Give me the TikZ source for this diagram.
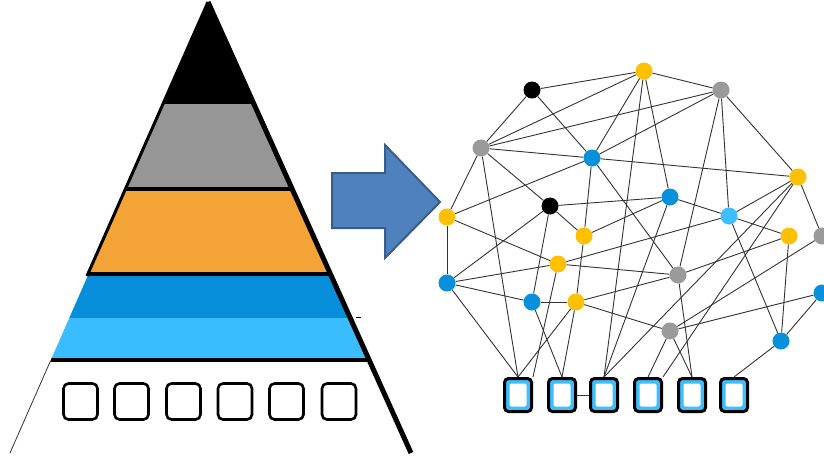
\documentclass[tikz,border=0pt]{standalone}
\usepackage{tikz}
\usetikzlibrary{positioning}
\definecolor{ptgray}{HTML}{969696}
\definecolor{ptorange}{HTML}{F4A436}
\definecolor{ptblue}{HTML}{078EDB}
\definecolor{ptlight}{HTML}{3ABDFE}
\definecolor{vyellow}{HTML}{FFC000}
\definecolor{vgray}{HTML}{9A9A9A}
\definecolor{vblue}{HTML}{0790DB}
\definecolor{vlight}{HTML}{3CBEFF}
\definecolor{arrfill}{HTML}{4F81BD}
\definecolor{arrline}{HTML}{385D8A}

\begin{document}
\begin{tikzpicture}[x=1pt, y=-1pt,
  vertex/.style={circle, inner sep=0pt, minimum size=17pt},
  yel/.style={vertex, fill=vyellow},
  gry/.style={vertex, fill=vgray},
  blk/.style={vertex, fill=black},
  blu/.style={vertex, fill=vblue},
  lbl/.style={vertex, fill=vlight},
  link/.style={draw=black!80, line width=0.9pt},
  slot/.style={draw=black, line width=2.6pt, rounded corners=5pt, fill=white, inner sep=0pt, minimum width=34pt, minimum height=36pt},
  leaf/.style={draw=black, line width=3pt, rounded corners=4pt, fill=vlight, inner sep=0pt, minimum width=27pt, minimum height=33pt,
    path picture={\fill[white, rounded corners=2pt] ([shift={(5pt,-5pt)}]path picture bounding box.north west) rectangle ([shift={(-5pt,5pt)}]path picture bounding box.south east);}}]
\useasboundingbox (0,0) rectangle (824,456);

% pyramid
\begin{scope}
\clip (208,2) -- (10,453) -- (411,453) -- cycle;
\fill[black] (0,0) rectangle (420,104);
\fill[ptgray] (0,104) rectangle (420,189);
\fill[ptorange] (0,189) rectangle (420,274);
\fill[ptblue] (0,274) rectangle (420,318);
\fill[ptlight] (0,318) rectangle (420,360);
\draw[line width=4pt] (0,189) -- (420,189);
\draw[line width=4pt] (0,274) -- (420,274);
\draw[line width=4pt] (0,360) -- (420,360);
\end{scope}
\draw[line width=3pt] (208,2) -- (87,276);
\draw[black!80, line width=0.8pt] (50,362) -- (10,453);
\draw[line width=5pt] (208,2) -- (411,453);
\draw[line width=0.8pt] (356,317) -- (361,317);
\node[slot] (p1) at (80.5,401.5) {};
\node[slot] (p2) at (131.5,401.5) {};
\node[slot] (p3) at (183.5,401.5) {};
\node[slot] (p4) at (235,401.5) {};
\node[slot] (p5) at (286.5,401.5) {};
\node[slot] (p6) at (339,401.5) {};

% arrow
\draw[fill=arrfill, draw=arrline, line width=2pt, line join=miter]
  (332,173) -- (385,173) -- (385,145) -- (440,202) -- (385,258) -- (385,228) -- (332,228) -- cycle;

% network
\node[yel] (y1) at (644,71) {};
\node[blk] (k1) at (532,90) {};
\node[gry] (g1) at (721,90) {};
\node[gry] (g2) at (481,148) {};
\node[blu] (b1) at (592,158) {};
\node[yel] (y2) at (798,177) {};
\node[blu] (b2) at (670,197) {};
\node[blk] (k2) at (550,206) {};
\node[lbl] (l1) at (729,216) {};
\node[yel] (y3) at (447,217) {};
\node[yel] (y4) at (584,236) {};
\node[yel] (y5) at (789,236) {};
\node[gry] (g3) at (822,236) {};
\node[yel] (y6) at (558,264) {};
\node[gry] (g4) at (678,275) {};
\node[blu] (b3) at (447,283) {};
\node[blu] (b4) at (822,293) {};
\node[blu] (b5) at (532,302) {};
\node[yel] (y7) at (576,302) {};
\node[gry] (g5) at (670,331) {};
\node[blu] (b6) at (781,341) {};

\draw[link] (k1) -- (y1);
\draw[link] (k1) -- (g2);
\draw[link] (k1) -- (b1);
\draw[link] (g2) -- (y1);
\draw[link] (g2) -- (g1);
\draw[link] (g2) -- (b1);
\draw[link] (g2) -- (y3);
\draw[link] (g2) -- (k2);
\draw[link] (y1) -- (g1);
\draw[link] (y1) -- (b1);
\draw[link] (y1) -- (b2);
\draw[link] (g1) -- (b1);
\draw[link] (g1) -- (y2);
\draw[link] (g1) -- (l1);
\draw[link] (g1) -- (g4);
\draw[link] (b1) -- (y2);
\draw[link] (b1) -- (y3);
\draw[link] (b1) -- (y4);
\draw[link] (b1) -- (g4);
\draw[link] (y2) -- (l1);
\draw[link] (y2) -- (g3);
\draw[link] (k2) -- (b2);
\draw[link] (k2) -- (y4);
\draw[link] (k2) -- (b3);
\draw[link] (k2) -- (b5);
\draw[link] (y4) -- (b2);
\draw[link] (y4) -- (y7);
\draw[link] (b2) -- (l1);
\draw[link] (l1) -- (y5);
\draw[link] (l1) -- (y6);
\draw[link] (l1) -- (b6);
\draw[link] (y3) -- (y6);
\draw[link] (y3) -- (b3);
\draw[link] (y6) -- (g4);
\draw[link] (y6) -- (b3);
\draw[link] (b3) -- (b5);
\draw[link] (b5) -- (y7);
\draw[link] (y7) -- (g4);
\draw[link] (y7) -- (g5);
\draw[link] (g4) -- (y5);
\draw[link] (y5) -- (b6);
\draw[link] (g3) -- (g5);
\draw[link] (b4) -- (g5);
\draw[link] (b4) -- (b6);

\node[leaf] (s1) at (518,395) {};
\node[leaf] (s2) at (562,395) {};
\node[leaf] (s3) at (604,395) {};
\node[leaf] (s4) at (648,395) {};
\node[leaf] (s5) at (692,395) {};
\node[leaf] (s6) at (734,395) {};

\draw[link] (g2) -- (s1.north);
\draw[link] (b3) -- (s1.north);
\draw[link] (y7) -- (s1.north);
\draw[link] (y6) -- (s1.north east);
\draw[link] (b5) -- (s2.north);
\draw[link] (y7) -- (s2.north);
\draw[link] (y1) -- (s3.north);
\draw[link] (b2) -- (s3.north);
\draw[link] (y2) -- (s3.north);
\draw[link] (y2) -- (s4.north east);
\draw[link] (g5) -- (s4.north);
\draw[link] (g4) -- (s5.north);
\draw[link] (g5) -- (s5.north);
\draw[link] (b6) -- (s6.north);
\draw[link] (s2) -- (s3);
\end{tikzpicture}
\end{document}
